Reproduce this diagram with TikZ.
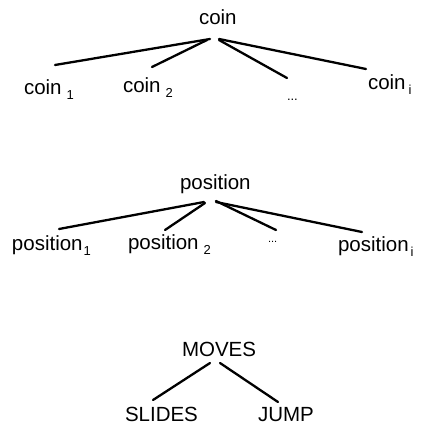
\documentclass[tikz,border=0pt]{standalone}
\usepackage{fontspec}
\setmainfont{Liberation Sans}
\newcommand{\subs}[1]{\raisebox{-5pt}{\fontsize{13}{14}\selectfont #1}}
\tikzset{
  lbl/.style={anchor=base west, inner sep=0pt, outer sep=0pt, font=\fontsize{20.5}{22}\selectfont},
  edge/.style={line width=2.3pt, line cap=round}
}
\begin{document}
\begin{tikzpicture}[x=1pt,y=-1pt]
\useasboundingbox (0,0) rectangle (421,425);
% tree 1
\node[lbl] (coin) at (199,25) {coin};
\node[lbl] (c1) at (24,95) {coin\hspace{5pt}\subs{1}};
\node[lbl] (c2) at (123,93) {coin\hspace{5pt}\subs{2}};
\node[lbl] (cd) at (287,100) {\fontsize{13}{13}\selectfont ...};
\node[lbl] (ci) at (368,90) {coin\hspace{3pt}\subs{i}};
\coordinate (ra) at (210,39); \coordinate (rb) at (207,40);
\coordinate (rc) at (219,40); \coordinate (rd) at (219,39);
\coordinate (e1) at (55,65); \coordinate (e2) at (152,67);
\coordinate (e3) at (287,78); \coordinate (e4) at (366,69);
\draw[edge] (ra) -- (e1);
\draw[edge] (rb) -- (e2);
\draw[edge] (rc) -- (e3);
\draw[edge] (rd) -- (e4);
% tree 2
\node[lbl] (pos) at (180,189) {position};
\node[lbl] (p1) at (12,250) {position\hspace{1pt}\subs{1}};
\node[lbl] (p2) at (128,249) {position\hspace{5pt}\subs{2}};
\node[lbl] (pd) at (268,242) {\fontsize{11}{11}\selectfont ...};
\node[lbl] (pi) at (338,251) {position\hspace{2pt}\subs{i}};
\coordinate (sa) at (204,202); \coordinate (sb) at (205,203);
\coordinate (sc) at (216,201); \coordinate (sd) at (216,202);
\coordinate (f1) at (59,229); \coordinate (f2) at (165,230);
\coordinate (f3) at (276,230); \coordinate (f4) at (362,232);
\draw[edge] (sa) -- (f1);
\draw[edge] (sb) -- (f2);
\draw[edge] (sc) -- (f3);
\draw[edge] (sd) -- (f4);
% tree 3
\node[lbl] (moves) at (182,356) {MOVES};
\node[lbl] (slides) at (125,421) {SLIDES};
\node[lbl] (jump) at (258,421) {JUMP};
\coordinate (ma) at (210,363); \coordinate (mb) at (220,363);
\coordinate (g1) at (153,400); \coordinate (g2) at (278,402);
\draw[edge] (ma) -- (g1);
\draw[edge] (mb) -- (g2);
\end{tikzpicture}
\end{document}
